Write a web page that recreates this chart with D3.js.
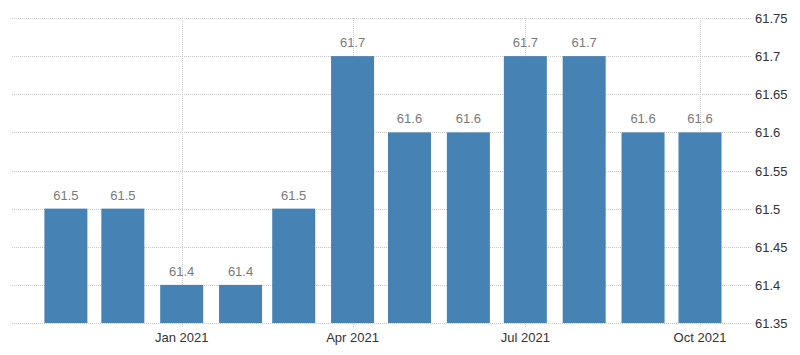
<!DOCTYPE html>
<html>
<head>
<meta charset="utf-8">
<script src="https://cdn.jsdelivr.net/npm/d3@7"></script>
<style>
  html, body { margin: 0; padding: 0; background: #fff; }
  svg { display: block; font-family: "Liberation Sans", Arial, sans-serif; }
</style>
</head>
<body>
<svg id="chart" width="800" height="355"></svg>
<script>
const months = ["2020-11-01","2020-12-01","2021-01-01","2021-02-01","2021-03-01","2021-04-01",
                "2021-05-01","2021-06-01","2021-07-01","2021-08-01","2021-09-01","2021-10-01"];
const values = [61.5, 61.5, 61.4, 61.4, 61.5, 61.7, 61.6, 61.6, 61.7, 61.7, 61.6, 61.6];
const yTicks = [61.35, 61.4, 61.45, 61.5, 61.55, 61.6, 61.65, 61.7, 61.75];
const xTickDates = ["2021-01-01","2021-04-01","2021-07-01","2021-10-01"];
const xTickLabels = ["Jan 2021","Apr 2021","Jul 2021","Oct 2021"];

const parse = d3.utcParse("%Y-%m-%d");
const data = months.map((m, i) => ({ date: parse(m), value: values[i] }));

const svg = d3.select("#chart");
const plotLeft = 12, plotRight = 752;

const x = d3.scaleUtc()
  .domain([parse("2021-01-01"), parse("2021-10-01")])
  .range([181.7, 700]);
const y = d3.scaleLinear().domain([61.35, 61.75]).range([323, 18]);

const barW = 43;
const gridColor = "#c8c8c8";

// horizontal grid
svg.append("g").selectAll("line").data(yTicks).join("line")
  .attr("x1", plotLeft).attr("x2", plotRight)
  .attr("y1", d => Math.round(y(d)) + 0.5).attr("y2", d => Math.round(y(d)) + 0.5)
  .attr("stroke", gridColor).attr("stroke-dasharray", "1,1");

// vertical grid
svg.append("g").selectAll("line").data(xTickDates).join("line")
  .attr("x1", d => Math.round(x(parse(d))) + 0.5).attr("x2", d => Math.round(x(parse(d))) + 0.5)
  .attr("y1", y(61.75)).attr("y2", y(61.35) + 5)
  .attr("stroke", gridColor).attr("stroke-dasharray", "1,1");

// bars
svg.append("g").selectAll("rect").data(data).join("rect")
  .attr("x", d => x(d.date) - barW / 2)
  .attr("width", barW)
  .attr("y", d => y(d.value))
  .attr("height", d => y(61.35) - y(d.value))
  .attr("fill", "#4682b4");

// value labels
svg.append("g").selectAll("text").data(data).join("text")
  .attr("x", d => x(d.date))
  .attr("y", d => y(d.value) - 9)
  .attr("text-anchor", "middle")
  .attr("font-size", 13)
  .attr("fill", "#7a7a7a")
  .text(d => d.value.toFixed(1));

// y axis labels (right)
svg.append("g").selectAll("text").data(yTicks).join("text")
  .attr("x", 755)
  .attr("y", d => y(d) + 5)
  .attr("font-size", 13)
  .attr("fill", "#333")
  .text(d => d3.format("")(+d.toFixed(2)));

// x axis labels
svg.append("g").selectAll("text").data(xTickDates).join("text")
  .attr("x", d => x(parse(d)))
  .attr("y", 342)
  .attr("text-anchor", "middle")
  .attr("font-size", 13)
  .attr("fill", "#333")
  .text((d, i) => xTickLabels[i]);
</script>
</body>
</html>
